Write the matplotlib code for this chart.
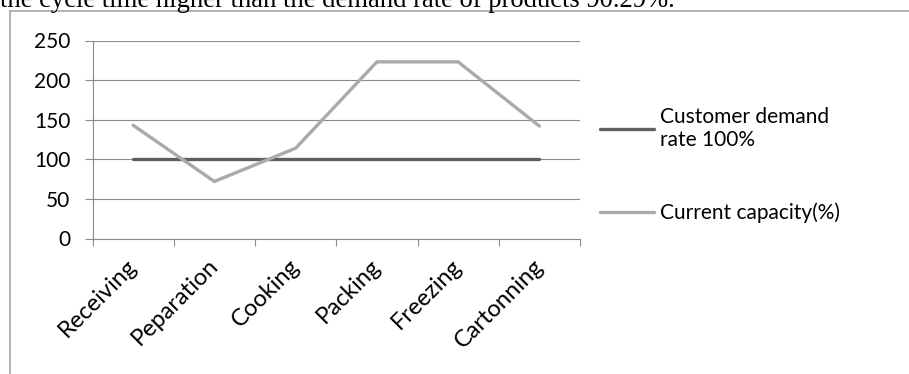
import numpy as np
import matplotlib

matplotlib.use("Agg")
import matplotlib.pyplot as plt  # noqa: E402
import matplotlib.transforms as mtransforms  # noqa: E402
from matplotlib.lines import Line2D  # noqa: E402

# data
stages = ["Receiving", "Peparation", "Cooking", "Packing", "Freezing", "Cartonning"]
demand = [100, 100, 100, 100, 100, 100]
capacity = [143, 72, 114, 223, 223, 142]
yticks = [0, 50, 100, 150, 200, 250]
caption = "the cycle time higher than the demand rate of products 90.29%."

W, H = 909, 374
DPI = 100
GRID = "#8c8c8c"

plt.rcParams["font.family"] = ["Lato", "DejaVu Sans"]

fig = plt.figure(figsize=(W / DPI, H / DPI), dpi=DPI)


def px(x0, y0, x1, y1):
    # pixel box (top-left origin) -> figure fraction rect
    return [x0 / W, 1 - y1 / H, (x1 - x0) / W, (y1 - y0) / H]


ax = fig.add_axes(px(92.5, 40.5, 580, 238.5))

x = np.arange(len(stages)) + 0.5
ax.plot(x, demand, color="#5f5f5f", lw=2.4, solid_capstyle="round",
        label="Customer demand\nrate 100%", zorder=3)
ax.plot(x, capacity, color="#aaaaaa", lw=2.4, solid_capstyle="round",
        solid_joinstyle="miter", label="Current capacity(%)", zorder=4)

ax.set_xlim(0, len(stages))
ax.set_ylim(0, 250)
ax.set_yticks(yticks)
ax.tick_params(axis="y", length=6, width=0.8, color=GRID, labelsize=15, pad=10)
ax.grid(axis="y", color=GRID, lw=0.8)
ax.set_axisbelow(True)

ax.set_xticks(x)
ax.set_xticklabels(stages, rotation=45, ha="right", va="top",
                   rotation_mode="anchor", fontsize=17)
ax.set_xticks(np.arange(len(stages) + 1), minor=True)
ax.tick_params(axis="x", which="major", length=0, pad=12)
ax.tick_params(axis="x", which="minor", length=5, width=0.8, color=GRID)

# nudge the rotated labels so their ends sit right under the category
shift = mtransforms.ScaledTranslation(-7 / DPI, 0, fig.dpi_scale_trans)
for lab in ax.get_xticklabels():
    lab.set_transform(lab.get_transform() + shift)

for side in ("top", "right"):
    ax.spines[side].set_visible(False)
for side in ("left", "bottom"):
    ax.spines[side].set_color(GRID)
    ax.spines[side].set_linewidth(0.8)

leg = ax.legend(loc="center left", bbox_to_anchor=(600 / W, 1 - 165 / H),
                bbox_transform=fig.transFigure, frameon=False, fontsize=15,
                handlelength=2.6, handletextpad=0.3, labelspacing=2.5,
                borderpad=0, borderaxespad=0)

# outer chart frame (top and left edges only visible in the crop)
fig.add_artist(Line2D([10 / W, 10 / W], [0, 1 - 11 / H], color="#a6a6a6",
                      lw=1.2, transform=fig.transFigure))
fig.add_artist(Line2D([10 / W, 1], [1 - 11 / H, 1 - 11 / H], color="#a6a6a6",
                      lw=1.2, transform=fig.transFigure))

fig.text(0.0, 1 - 7 / H, caption, family="Liberation Serif", fontsize=19.2,
         va="baseline", ha="left")

fig.savefig("out.png", dpi=DPI)
